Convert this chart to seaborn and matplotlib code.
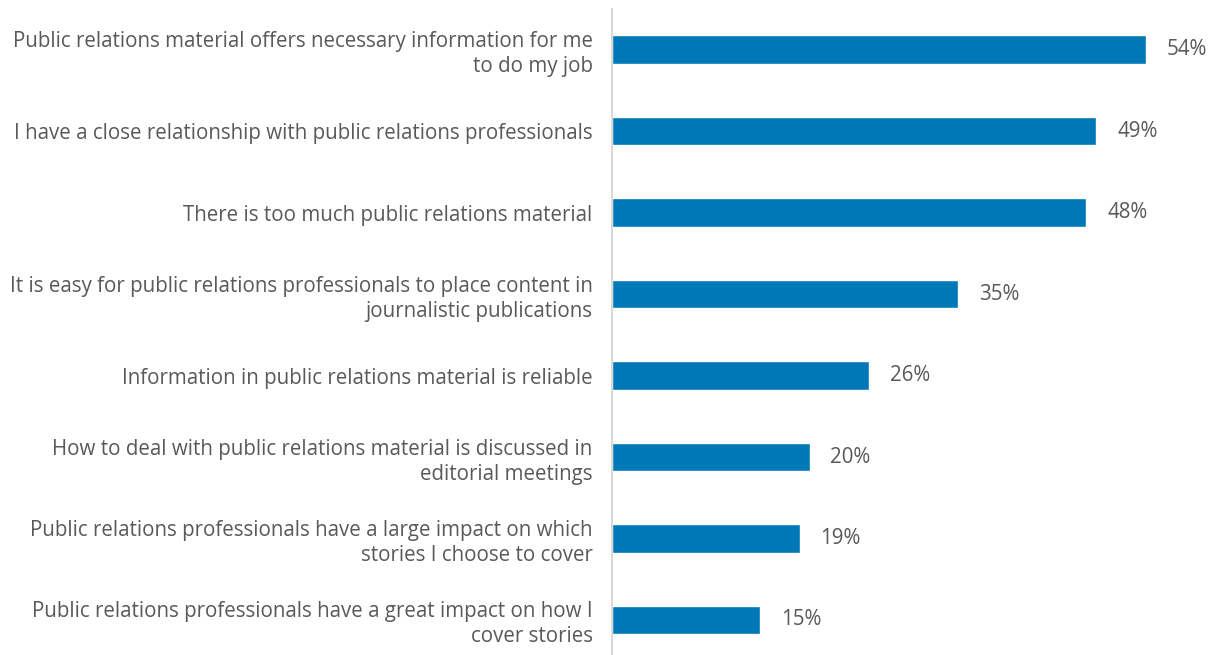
import matplotlib
matplotlib.use("Agg")
import matplotlib.pyplot as plt
import seaborn as sns
import pandas as pd

statements = [
    "Public relations material offers necessary information for me\nto do my job",
    "I have a close relationship with public relations professionals",
    "There is too much public relations material",
    "It is easy for public relations professionals to place content in\njournalistic publications",
    "Information in public relations material is reliable",
    "How to deal with public relations material is discussed in\neditorial meetings",
    "Public relations professionals have a large impact on which\nstories I choose to cover",
    "Public relations professionals have a great impact on how I\ncover stories",
]
shares = [54, 49, 48, 35, 26, 20, 19, 15]

df = pd.DataFrame({"statement": statements, "share": shares})

sns.set_theme(style="white")
plt.rcParams["font.family"] = ["Open Sans", "DejaVu Sans"]

W, H = 1217, 655
fig = plt.figure(figsize=(W / 100, H / 100), dpi=100)
ax = fig.add_axes([612 / W, 0.0, (1215 - 612) / W, (655 - 9) / H])

bar_color = "#0077B6"
text_color = "#595959"

sns.barplot(data=df, x="share", y="statement", orient="h", color=bar_color,
            width=0.35, saturation=1, ax=ax)

ax.set_xlim(0, 61)
ax.set_ylim(7.43, -0.5)

for i, v in enumerate(shares):
    ax.text(v + 2.1, i, f"{v}%", va="center", ha="left",
            fontsize=14.8, color=text_color)

ax.set_xlabel("")
ax.set_ylabel("")
ax.set_xticks([])
ax.tick_params(axis="y", length=0, pad=14, labelsize=14.8, labelcolor=text_color)
for lbl in ax.get_yticklabels():
    lbl.set_linespacing(1.25)

for side in ["top", "right", "bottom"]:
    ax.spines[side].set_visible(False)
ax.spines["left"].set_color("#D9D9D9")
ax.spines["left"].set_linewidth(1.5)

fig.savefig("out.png", dpi=100)
